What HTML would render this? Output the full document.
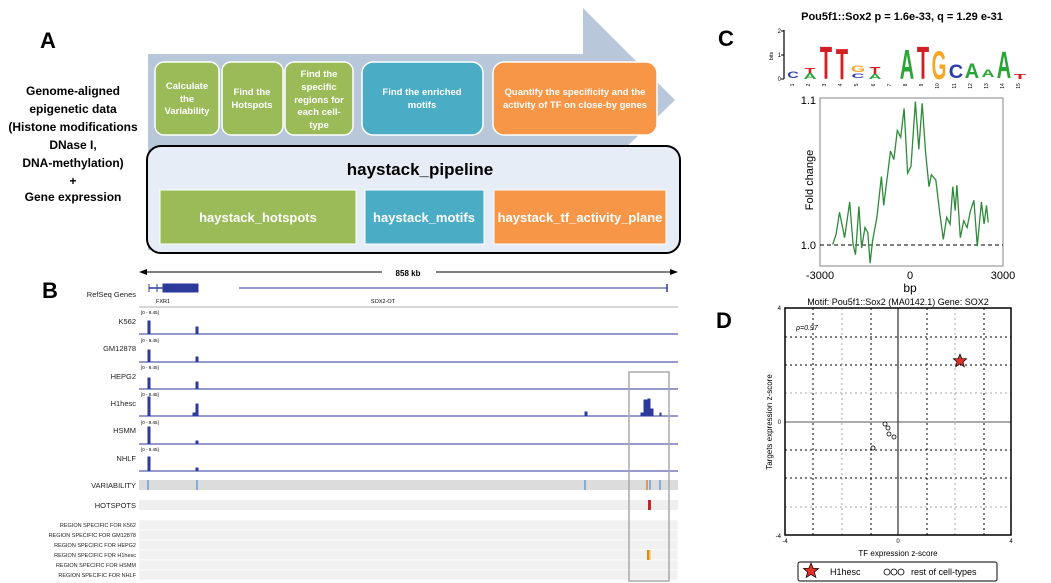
<!DOCTYPE html>
<html><head><meta charset="utf-8"><style>
html,body{margin:0;padding:0;background:#fff;}
svg{display:block;font-family:"Liberation Sans",sans-serif;}
</style></head><body>
<svg width="1051" height="583" viewBox="0 0 1051 583" xmlns="http://www.w3.org/2000/svg">
<!-- A -->
<text x="40" y="48" font-size="22" font-weight="bold">A</text>
<polygon points="148,54 583,54 583,8 675,100 583,189 583,250 148,250" fill="#b8c7d9"/>
<g font-size="12" font-weight="bold" text-anchor="middle" fill="#000">
<text x="73" y="95">Genome-aligned</text>
<text x="73" y="113">epigenetic data</text>
<text x="73" y="131">(Histone modifications</text>
<text x="73" y="149">DNase I,</text>
<text x="73" y="167">DNA-methylation)</text>
<text x="73" y="185">+</text>
<text x="73" y="201">Gene expression</text>
</g>
<g stroke="#fff" stroke-width="1.5">
<rect x="155" y="62" width="64" height="73" rx="9" fill="#9bbb59"/>
<rect x="222" y="62" width="61" height="73" rx="9" fill="#9bbb59"/>
<rect x="285" y="62" width="68" height="73" rx="9" fill="#9bbb59"/>
<rect x="362" y="62" width="121" height="73" rx="11" fill="#4bacc6"/>
<rect x="493" y="62" width="164" height="73" rx="11" fill="#f79646"/>
</g>
<g font-size="9.5" font-weight="bold" text-anchor="middle" fill="#fff">
<text x="187" y="89">Calculate</text><text x="187" y="102">the</text><text x="187" y="114">Variability</text>
<text x="252" y="95">Find the</text><text x="252" y="108">Hotspots</text>
<text x="319" y="77">Find the</text><text x="319" y="90">specific</text><text x="319" y="103">regions  for</text><text x="319" y="115">each cell-</text><text x="319" y="128">type</text>
<text x="422" y="95">Find the enriched</text><text x="422" y="108">motifs</text>
<text x="575" y="95">Quantify the specificity and the</text><text x="575" y="108">activity of TF on close-by genes</text>
</g>
<rect x="147" y="146" width="533" height="107" rx="14" fill="#e6edf6" stroke="#000" stroke-width="2"/>
<text x="420" y="175" font-size="17" font-weight="bold" text-anchor="middle">haystack_pipeline</text>
<rect x="160" y="190" width="196" height="54" fill="#9bbb59" stroke="#fff"/>
<rect x="365" y="190" width="119" height="54" fill="#4bacc6" stroke="#fff"/>
<rect x="494" y="190" width="172" height="54" fill="#f79646" stroke="#fff"/>
<g font-size="13" font-weight="bold" text-anchor="middle" fill="#fff">
<text x="258" y="222">haystack_hotspots</text>
<text x="424" y="222">haystack_motifs</text>
<text x="580" y="222">haystack_tf_activity_plane</text>
</g>

<!-- B -->
<text x="42" y="298" font-size="22" font-weight="bold">B</text>
<line x1="141" y1="272" x2="382" y2="272" stroke="#000"/>
<line x1="436" y1="272" x2="676" y2="272" stroke="#000"/>
<polygon points="139,272 147,269 147,275"/><polygon points="678,272 670,269 670,275"/>
<text x="408" y="276" font-size="8" font-weight="bold" text-anchor="middle">858 kb</text>
<g font-size="7.5" text-anchor="end" fill="#222">
<text x="136" y="297">RefSeq Genes</text>
<text x="136" y="324">K562</text><text x="136" y="351">GM12878</text><text x="136" y="379">HEPG2</text>
<text x="136" y="406">H1hesc</text><text x="136" y="433">HSMM</text><text x="136" y="461">NHLF</text>
<text x="136" y="488">VARIABILITY</text><text x="136" y="508">HOTSPOTS</text>
</g>
<g font-size="5.5" text-anchor="end" fill="#222">
<text x="136" y="527">REGION SPECIFIC FOR K562</text><text x="136" y="537">REGION SPECIFIC FOR GM12878</text>
<text x="136" y="547">REGION SPECIFIC FOR HEPG2</text><text x="136" y="557">REGION SPECIFIC FOR H1hesc</text>
<text x="136" y="567">REGION SPECIFIC FOR HSMM</text><text x="136" y="577">REGION SPECIFIC FOR NHLF</text>
</g>
<g stroke="#2b3a9b" fill="#2b3a9b">
<line x1="149" y1="288" x2="198" y2="288" stroke-width="1.5"/>
<rect x="163" y="284" width="35" height="8"/><line x1="149" y1="284" x2="149" y2="292"/><line x1="157" y1="284" x2="157" y2="292"/>
<line x1="239" y1="288" x2="667" y2="288"/><line x1="667" y1="284" x2="667" y2="292" stroke-width="1.5"/>
</g>
<text x="163" y="303" font-size="5.5" text-anchor="middle">FXR1</text>
<text x="383" y="303" font-size="5.5" text-anchor="middle">SOX2-OT</text>
<line x1="139" y1="307" x2="678" y2="307" stroke="#ccc" stroke-width="1.5"/>
<g font-size="4.5" fill="#000">
<text x="141" y="314">[0 - 9.45]</text><text x="141" y="342">[0 - 9.45]</text><text x="141" y="369">[0 - 9.45]</text>
<text x="141" y="396">[0 - 9.45]</text><text x="141" y="424">[0 - 9.45]</text><text x="141" y="451">[0 - 9.45]</text>
</g>
<g stroke="#2b3a9b" fill="#2b3a9b">
<line x1="139" y1="334" x2="678" y2="334"/><line x1="139" y1="362" x2="678" y2="362"/>
<line x1="139" y1="389" x2="678" y2="389"/><line x1="139" y1="416" x2="678" y2="416"/>
<line x1="139" y1="444" x2="678" y2="444"/><line x1="139" y1="471" x2="678" y2="471"/>
<rect x="148" y="321" width="2" height="13"/><rect x="196" y="327" width="2" height="7"/>
<rect x="148" y="350" width="2" height="12"/><rect x="196" y="357" width="2" height="5"/>
<rect x="148" y="378" width="2" height="11"/><rect x="196" y="382" width="2" height="7"/>
<rect x="148" y="397" width="2" height="19"/><rect x="196" y="404" width="2" height="12"/><rect x="193" y="413" width="2" height="3"/>
<rect x="585" y="412" width="2" height="4"/><rect x="641" y="413" width="3" height="3"/><rect x="644" y="400" width="3" height="16"/><rect x="648" y="399" width="2" height="17"/><rect x="650" y="409" width="3" height="7"/><rect x="660" y="413" width="1" height="3"/>
<rect x="148" y="427" width="2" height="17"/><rect x="196" y="441" width="2" height="3"/>
<rect x="148" y="457" width="2" height="14"/><rect x="196" y="468" width="2" height="3"/>
</g>
<rect x="139" y="480" width="539" height="10" fill="#dcdcdc"/>
<g stroke="#4a90d9" stroke-width="1.2"><line x1="148" y1="480" x2="148" y2="490"/><line x1="197" y1="480" x2="197" y2="490"/><line x1="585" y1="480" x2="585" y2="490"/><line x1="650" y1="480" x2="650" y2="490"/><line x1="660" y1="480" x2="660" y2="490"/></g>
<line x1="647" y1="480" x2="647" y2="490" stroke="#e8822a" stroke-width="1.5"/>
<rect x="139" y="500" width="539" height="10" fill="#efefef"/>
<rect x="648" y="500" width="3" height="10" fill="#c0282b"/>
<g fill="#f1f1f1" stroke="#fff" stroke-width="0.6">
<rect x="139" y="520" width="539" height="10"/><rect x="139" y="530" width="539" height="10"/><rect x="139" y="540" width="539" height="10"/>
<rect x="139" y="550" width="539" height="10"/><rect x="139" y="560" width="539" height="10"/><rect x="139" y="570" width="539" height="10"/>
</g>
<rect x="647" y="550" width="2" height="10" fill="#e8822a"/><rect x="649" y="550" width="1.5" height="10" fill="#f0c040"/>
<rect x="629" y="372" width="40" height="209" fill="none" stroke="#aaa" stroke-width="1.5"/>

<!-- C -->
<text x="718" y="46" font-size="22" font-weight="bold">C</text>
<text x="902" y="20" font-size="11" font-weight="bold" text-anchor="middle">Pou5f1::Sox2  p = 1.6e-33, q = 1.29 e-31</text>
<line x1="784" y1="30" x2="784" y2="79" stroke="#000" stroke-width="1.2"/>
<g stroke="#000"><line x1="781" y1="31" x2="784" y2="31"/><line x1="781" y1="55" x2="784" y2="55"/><line x1="781" y1="79" x2="784" y2="79"/></g>
<g font-size="6" text-anchor="end"><text x="781" y="33">2</text><text x="781" y="57">1</text><text x="781" y="81">0</text></g>
<text transform="translate(773,56) rotate(-90)" font-size="5.5" text-anchor="middle">bits</text>
<g font-weight="bold" text-anchor="middle" font-size="20">
<text transform="translate(793,78) scale(1,0.6)" fill="#2b3da8" font-size="16">C</text>
<text transform="translate(810,79) scale(0.9,0.4)" fill="#2aa537">A</text>
<text transform="translate(810,73) scale(0.9,0.35)" fill="#d21f26">T</text>
<text transform="translate(826,79) scale(1,2.3)" fill="#d21f26">T</text>
<text transform="translate(842,79) scale(1,2.2)" fill="#d21f26">T</text>
<text transform="translate(858,72) scale(0.9,0.45)" fill="#f6a623">G</text>
<text transform="translate(858,78) scale(0.9,0.3)" fill="#2b3da8">C</text>
<text transform="translate(875,79) scale(0.9,0.35)" fill="#2aa537">A</text>
<text transform="translate(875,74) scale(0.9,0.5)" fill="#d21f26">T</text>
<text transform="translate(907,79) scale(1,2.1)" fill="#2aa537">A</text>
<text transform="translate(923,79) scale(1,2.3)" fill="#d21f26">T</text>
<text transform="translate(939,79) scale(0.95,2.0)" fill="#f6a623">G</text>
<text transform="translate(956,78) scale(1,0.95)" fill="#2b3da8">C</text>
<text transform="translate(972,78) scale(1,1.05)" fill="#2aa537">A</text>
<text transform="translate(988,77) scale(0.9,0.55)" fill="#2aa537">A</text>
<text transform="translate(1004,78) scale(1,1.9)" fill="#2aa537">A</text>
<text transform="translate(1020,79) scale(1,0.35)" fill="#d21f26">T</text>
</g>
<g font-size="5" text-anchor="middle">
<text transform="translate(794,85) rotate(-90)">1</text><text transform="translate(810,85) rotate(-90)">2</text><text transform="translate(826,85) rotate(-90)">3</text><text transform="translate(842,85) rotate(-90)">4</text><text transform="translate(858,85) rotate(-90)">5</text><text transform="translate(875,85) rotate(-90)">6</text><text transform="translate(891,85) rotate(-90)">7</text><text transform="translate(907,85) rotate(-90)">8</text><text transform="translate(923,85) rotate(-90)">9</text><text transform="translate(939,86) rotate(-90)">10</text><text transform="translate(956,86) rotate(-90)">11</text><text transform="translate(972,86) rotate(-90)">12</text><text transform="translate(988,86) rotate(-90)">13</text><text transform="translate(1004,86) rotate(-90)">14</text><text transform="translate(1020,86) rotate(-90)">15</text>
</g>
<rect x="820" y="98" width="183" height="168" fill="none" stroke="#999" stroke-width="1.2"/>
<line x1="820" y1="245" x2="1003" y2="245" stroke="#000" stroke-dasharray="4,3"/>
<polyline fill="none" stroke="#2e8b3a" stroke-width="1.3" points="832.7,244.5 836.1,234.3 839.5,212.2 841.9,224.1 844.6,237.7 849.7,202 853.1,244.5 855.5,254.7 858.9,206.4 861.6,247.9 865,227.5 867.8,232.6 870.1,263.2 872.5,241.1 876.9,217.3 881.4,176.5 883.7,205.4 888.2,169.7 890.5,151 893.9,159.5 897.3,130.5 900.7,137.3 904.1,108.4 907.6,173.1 911,166.3 915.4,101.6 918.8,149.3 922.2,103.3 925.6,152.7 929,186.7 931.4,174.8 935.8,179.9 939.9,213.9 943.3,239.4 946.7,217.3 950.1,224.1 952.8,186.7 955.2,210.5 956.9,185 960.3,237.7 963.7,220.7 967.1,227.5 970.5,210.5 973.9,200.3 977.3,246.2 981.4,202 984.1,224.1 986.5,205.4 988.2,222.4"/>
<g font-size="11"><text x="816" y="104" text-anchor="end">1.1</text><text x="816" y="249" text-anchor="end">1.0</text>
<text x="820" y="279" text-anchor="middle">-3000</text><text x="910" y="279" text-anchor="middle">0</text><text x="1003" y="279" text-anchor="middle">3000</text>
<text x="910" y="292" text-anchor="middle" font-size="12">bp</text>
<text transform="translate(813,180) rotate(-90)" text-anchor="middle">Fold change</text></g>

<!-- D -->
<text x="716" y="328" font-size="22" font-weight="bold">D</text>
<text x="898" y="305" font-size="9" text-anchor="middle">Motif: Pou5f1::Sox2 (MA0142.1) Gene: SOX2</text>
<g stroke-width="1">
<g stroke="#000" stroke-dasharray="2,3"><line x1="813" y1="308" x2="813" y2="535"/><line x1="871" y1="308" x2="871" y2="535"/><line x1="927" y1="308" x2="927" y2="535"/><line x1="984" y1="308" x2="984" y2="535"/>
<line x1="785" y1="337" x2="1011" y2="337"/><line x1="785" y1="365" x2="1011" y2="365"/><line x1="785" y1="450" x2="1011" y2="450"/><line x1="785" y1="478" x2="1011" y2="478"/></g>
<g stroke="#aaa" stroke-dasharray="2,3"><line x1="842" y1="308" x2="842" y2="535"/><line x1="955" y1="308" x2="955" y2="535"/><line x1="785" y1="393" x2="1011" y2="393"/><line x1="785" y1="507" x2="1011" y2="507"/></g>
<line x1="898" y1="308" x2="898" y2="535" stroke="#000"/><line x1="785" y1="422" x2="1011" y2="422" stroke="#555"/>
</g>
<rect x="785" y="308" width="226" height="227" fill="none" stroke="#000" stroke-width="1.5"/>
<text x="796" y="330" font-size="7" font-style="italic">ρ=0.97</text>
<g fill="none" stroke="#000" stroke-width="0.8"><circle cx="885" cy="424" r="2"/><circle cx="888" cy="428" r="2"/><circle cx="889" cy="434" r="2"/><circle cx="894" cy="437" r="2"/><circle cx="873" cy="448" r="2"/></g>
<polygon transform="translate(960,361)" points="0,-7 1.9,-2.4 6.7,-2.2 3,0.9 4.3,5.7 0,3 -4.3,5.7 -3,0.9 -6.7,-2.2 -1.9,-2.4" fill="#e0302a" stroke="#000" stroke-width="0.7"/>
<g font-size="6"><text x="781" y="310" text-anchor="end">4</text><text x="781" y="424" text-anchor="end">0</text><text x="781" y="538" text-anchor="end">-4</text>
<text x="785" y="543" text-anchor="middle">-4</text><text x="898" y="543" text-anchor="middle">0</text><text x="1011" y="543" text-anchor="middle">4</text></g>
<text x="898" y="556" font-size="8" text-anchor="middle">TF expression z-score</text>
<text transform="translate(772,422) rotate(-90)" font-size="8" text-anchor="middle">Targets expression z-score</text>
<rect x="798" y="562" width="199" height="19" rx="2" fill="#fff" stroke="#333" stroke-width="1.2"/>
<polygon transform="translate(811,571)" points="0,-8 2.2,-2.8 7.6,-2.5 3.4,1 4.9,6.5 0,3.4 -4.9,6.5 -3.4,1 -7.6,-2.5 -2.2,-2.8" fill="#e0302a" stroke="#000" stroke-width="0.7"/>
<text x="830" y="575" font-size="9">H1hesc</text>
<g fill="none" stroke="#000" stroke-width="0.8"><circle cx="887" cy="572" r="3"/><circle cx="894" cy="572" r="3"/><circle cx="901" cy="572" r="3"/></g>
<text x="911" y="575" font-size="9">rest of cell-types</text>
</svg>
</body></html>
